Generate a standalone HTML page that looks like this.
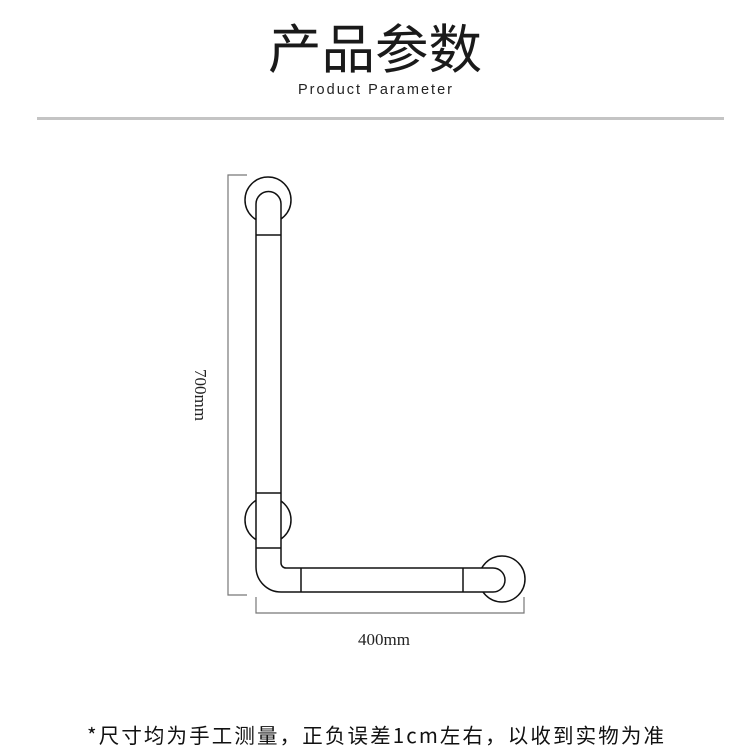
<!DOCTYPE html>
<html><head><meta charset="utf-8"><style>
html,body{margin:0;padding:0;background:#fff;}
body{width:750px;height:750px;overflow:hidden;position:relative;}
</style></head><body>
<svg width="750" height="750" viewBox="0 0 750 750" xmlns="http://www.w3.org/2000/svg" style="position:absolute;left:0;top:0">
<text x="268" y="68" textLength="214" lengthAdjust="spacingAndGlyphs" font-family="Noto Sans CJK SC, sans-serif" font-size="53" fill="#1a1a1a">产品参数</text>
<text x="298" y="94" textLength="154" font-family="Liberation Sans, sans-serif" font-size="14.5" fill="#222">Product Parameter</text>
<rect x="37" y="117" width="687" height="3" fill="#c4c4c4"/>
<g stroke="#777" stroke-width="1.2" fill="none">
<path d="M247 175 H228 V595 H247"/>
<path d="M256 597 V613 H524 V597"/>
</g>
<text x="384" y="645" text-anchor="middle" font-family="Liberation Serif, serif" font-size="17" fill="#222">400mm</text>
<text transform="translate(195,395) rotate(90)" text-anchor="middle" font-family="Liberation Serif, serif" font-size="17" fill="#222">700mm</text>
<g stroke="#111" stroke-width="1.5" fill="#fff">
<circle cx="268" cy="200" r="23"/>
<circle cx="268" cy="520" r="23"/>
<circle cx="502" cy="579" r="23"/>
<path d="M256 204 A12.5 12.5 0 0 1 281 204 V563 A5 5 0 0 0 286 568 H493 A12 12 0 0 1 493 592 H281 A25 25 0 0 1 256 567 Z"/>
<path d="M256 235 H281 M256 493 H281 M256 548 H281 M301 568 V592 M463 568 V592" fill="none"/>
</g>
<text x="87" y="743" textLength="577" lengthAdjust="spacing" font-family="WenQuanYi Zen Hei, Noto Sans CJK SC, sans-serif" font-size="20.5" fill="#111">*尺寸均为手工测量，正负误差1cm左右，以收到实物为准</text>
</svg>
</body></html>
